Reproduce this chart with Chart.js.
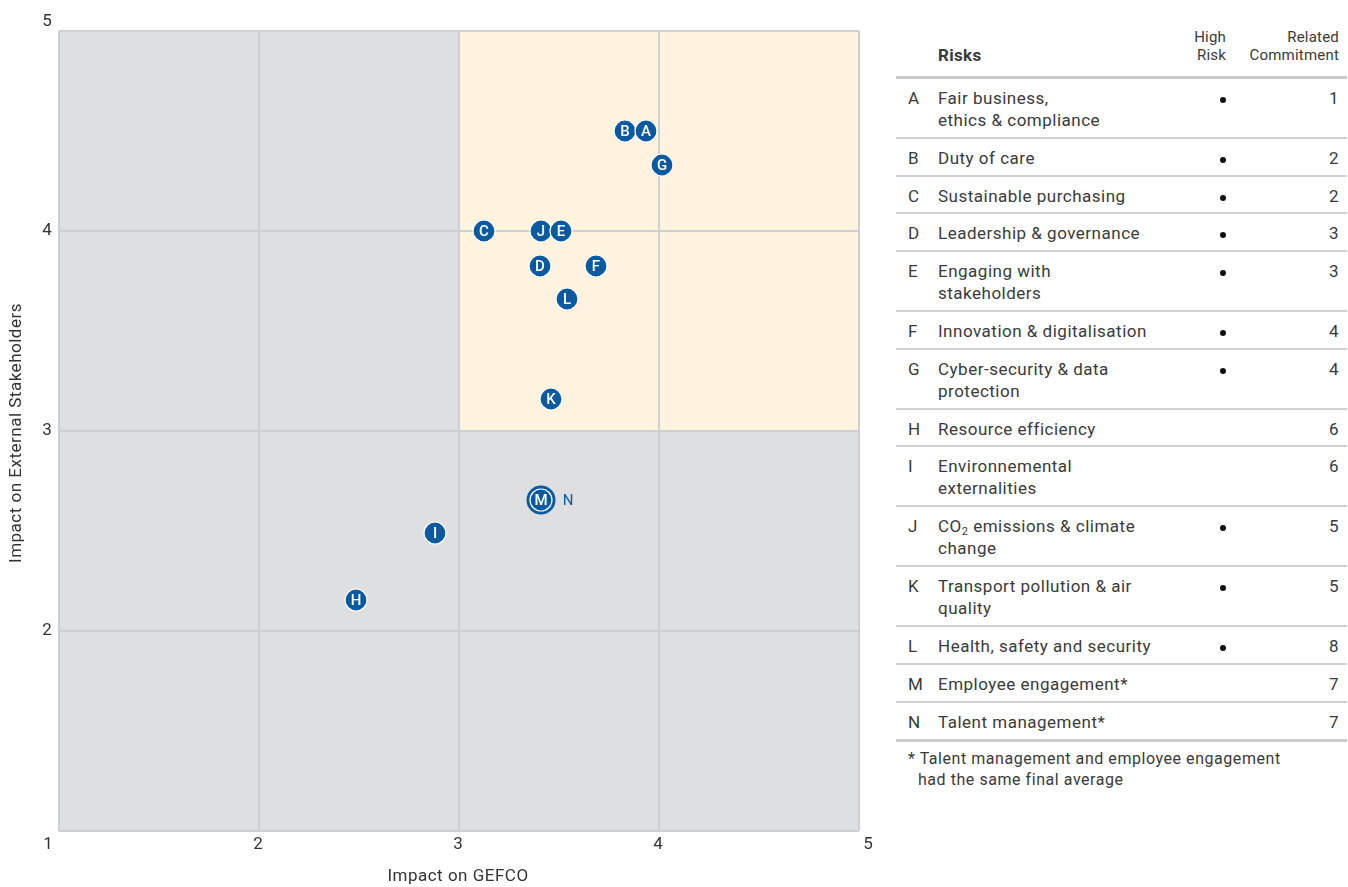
<!DOCTYPE html>
<html>
<head>
<meta charset="utf-8">
<script src="https://cdn.jsdelivr.net/npm/chart.js@4/dist/chart.umd.min.js"></script>
<style>
  html, body { margin:0; padding:0; background:#fff; }
  body { width:1348px; height:887px; position:relative; overflow:hidden; font-family:Roboto, sans-serif; color:#3a3a3a; }
  #wrap { position:absolute; left:0; top:0; width:880px; height:887px; }
  #tbl { position:absolute; left:896px; top:28px; width:451px; border-collapse:collapse; letter-spacing:0.5px; }
  #tbl th, #tbl td { padding:0; font-weight:400; }
  #tbl thead th { font-size:15px; line-height:18px; vertical-align:bottom; padding-bottom:12px; border-bottom:3px solid #cbcbcb; color:#3a3a3a; letter-spacing:0.2px; }
  #tbl thead th.risks { font-size:17px; font-weight:700; text-align:left; line-height:20px; padding-bottom:11px; letter-spacing:0.3px; }
  #tbl td { font-size:17px; line-height:22px; padding-top:8px; padding-bottom:6px; vertical-align:top; border-bottom:2px solid #d0d0d0; }
  #tbl tbody tr.one td { padding-bottom:5.7px; }
  #tbl tbody tr:last-child td { border-bottom:3px solid #cbcbcb; }
  .c-let { width:42px; padding-left:12px !important; box-sizing:border-box; text-align:left; }
  .c-name { width:252px; text-align:left; white-space:nowrap; }
  .c-high { width:40px; text-align:right; padding-right:4px !important; box-sizing:border-box; }
  .c-com { width:117px; text-align:right; padding-right:8px !important; box-sizing:border-box; }
  .dot { display:inline-block; width:6px; height:6px; border-radius:50%; background:#111; position:relative; top:-1px; }
  sub { font-size:11px; line-height:0; vertical-align:-3px; }
  #note { position:absolute; left:908px; top:748px; width:392px; font-size:16px; line-height:21px; color:#3a3a3a; padding-left:10px; text-indent:-10px; letter-spacing:0.55px; }
</style>
</head>
<body>
<div id="wrap"><canvas id="c" width="880" height="887"></canvas></div>
<table id="tbl">
  <thead><tr>
    <th class="c-let"></th>
    <th class="c-name risks">Risks</th>
    <th class="c-high">High<br>Risk</th>
    <th class="c-com">Related<br>Commitment</th>
  </tr></thead>
  <tbody id="tbody"></tbody>
</table>
<div id="note">* Talent management and employee engagement had the same final average</div>
<script>
// ---- data ----
const letters = ['A','B','C','D','E','F','G','H','I','J','K','L','M','N'];
const impactOnGefco = [3.935, 3.83, 3.125, 3.405, 3.51, 3.685, 4.015, 2.485, 2.88, 3.41, 3.46, 3.54, 3.41, 3.41];
const impactOnStakeholders = [4.5, 4.5, 4.0, 3.825, 4.0, 3.825, 4.33, 2.155, 2.49, 4.0, 3.16, 3.66, 2.655, 2.655];
const xTickLabels = [1, 2, 3, 4, 5];
const yTickLabels = [2, 3, 4, 5];
const riskNames = [
  'Fair business,<br>ethics &amp; compliance',
  'Duty of care',
  'Sustainable purchasing',
  'Leadership &amp; governance',
  'Engaging with<br>stakeholders',
  'Innovation &amp; digitalisation',
  'Cyber-security &amp; data<br>protection',
  'Resource efficiency',
  'Environnemental<br>externalities',
  'CO<sub>2</sub> emissions &amp; climate<br>change',
  'Transport pollution &amp; air<br>quality',
  'Health, safety and security',
  'Employee engagement*',
  'Talent management*'
];
const highRisk = [true,true,true,true,true,true,true,false,false,true,true,true,false,false];
const relatedCommitment = [1,2,2,3,3,4,4,6,6,5,5,8,7,7];

// ---- table ----
const tb = document.getElementById('tbody');
letters.forEach((l, i) => {
  const tr = document.createElement('tr');
  if (riskNames[i].indexOf('<br>') < 0) tr.className = 'one';
  tr.innerHTML = '<td class="c-let">' + l + '</td><td class="c-name">' + riskNames[i] +
    '</td><td class="c-high">' + (highRisk[i] ? '<span class="dot"></span>' : '') +
    '</td><td class="c-com">' + relatedCommitment[i] + '</td>';
  tb.appendChild(tr);
});

// ---- chart ----
const BLUE = '#0b5aa0';
const FONT = 'Roboto, sans-serif';
const idx = letters.map((l, i) => i).filter(i => letters[i] !== 'N');
idx.sort((a, b) => impactOnGefco[a] - impactOnGefco[b]);
const mainPts = idx.map(i => ({ x: impactOnGefco[i], y: impactOnStakeholders[i], label: letters[i] }));
const nI = letters.indexOf('N');
const nPts = [{ x: impactOnGefco[nI], y: impactOnStakeholders[nI], label: 'N' }];

const quadrantPlugin = {
  id: 'quad',
  beforeDraw(chart) {
    const { ctx, chartArea: a, scales: { x, y } } = chart;
    ctx.save();
    ctx.fillStyle = '#dedfe1';
    ctx.fillRect(a.left, a.top, a.right - a.left, a.bottom - a.top);
    ctx.fillStyle = '#fef3de';
    const x0 = x.getPixelForValue(3), x1 = x.getPixelForValue(5);
    const y0 = y.getPixelForValue(5), y1 = y.getPixelForValue(3);
    ctx.fillRect(x0, y0, x1 - x0, y1 - y0);
    ctx.restore();
  }
};

const textPlugin = {
  id: 'txt',
  afterDraw(chart) {
    const { ctx, chartArea: a, scales: { x, y } } = chart;
    ctx.save();
    ctx.fillStyle = '#333';
    ctx.font = '17px ' + FONT;
    ctx.textAlign = 'center';
    ctx.textBaseline = 'middle';
    xTickLabels.forEach((v, i) => {
      let px = x.getPixelForValue(v) - 1;
      if (i === 0) px -= 10;
      if (i === xTickLabels.length - 1) px += 10;
      ctx.fillText(String(v), px, a.bottom + 14);
    });
    yTickLabels.forEach((v, i) => {
      let py = y.getPixelForValue(v);
      if (i === yTickLabels.length - 1) py -= 9;
      ctx.fillText(String(v), a.left - 12, py);
    });
    ctx.font = '17px ' + FONT;
    try { ctx.letterSpacing = '0.5px'; } catch (e) {}
    ctx.fillText('Impact on GEFCO', (a.left + a.right) / 2 - 1, a.bottom + 46);
    ctx.save();
    ctx.translate(17, (a.top + a.bottom) / 2 + 2);
    ctx.rotate(-Math.PI / 2);
    ctx.fillText('Impact on External Stakeholders', 0, 0);
    ctx.restore();
    try { ctx.letterSpacing = '0px'; } catch (e) {}

    // point letters
    const m0 = chart.getDatasetMeta(0);
    ctx.fillStyle = '#fff';
    ctx.font = '500 15px ' + FONT;
    m0.data.forEach((el, i) => {
      ctx.fillText(mainPts[i].label, el.x, el.y + 1);
    });
    const m1 = chart.getDatasetMeta(1);
    ctx.fillStyle = BLUE;
    ctx.font = '15px ' + FONT;
    m1.data.forEach((el, i) => {
      ctx.fillText(nPts[i].label, el.x + 27, el.y + 1);
    });
    ctx.restore();
  }
};

new Chart(document.getElementById('c'), {
  type: 'scatter',
  data: {
    datasets: [
      { data: mainPts, pointRadius: 11, pointHoverRadius: 11, backgroundColor: BLUE, borderColor: '#fff', borderWidth: 1.2, pointBorderWidth: 1.2 },
      { data: nPts, pointRadius: 14.5, pointHoverRadius: 14.5, backgroundColor: BLUE, borderColor: BLUE, borderWidth: 0 }
    ]
  },
  options: {
    responsive: false,
    animation: false,
    events: [],
    layout: { padding: { left: 59, right: 21, top: 31, bottom: 56 } },
    plugins: { legend: { display: false }, tooltip: { enabled: false } },
    scales: {
      x: { type: 'linear', min: 1, max: 5, ticks: { display: false, stepSize: 1 },
           grid: { color: '#cdcfd2', lineWidth: 2, drawTicks: false }, border: { display: false } },
      y: { type: 'linear', min: 1, max: 5, ticks: { display: false, stepSize: 1 },
           grid: { color: '#cdcfd2', lineWidth: 2, drawTicks: false }, border: { display: false } }
    }
  },
  plugins: [quadrantPlugin, textPlugin]
});
</script>
</body>
</html>
